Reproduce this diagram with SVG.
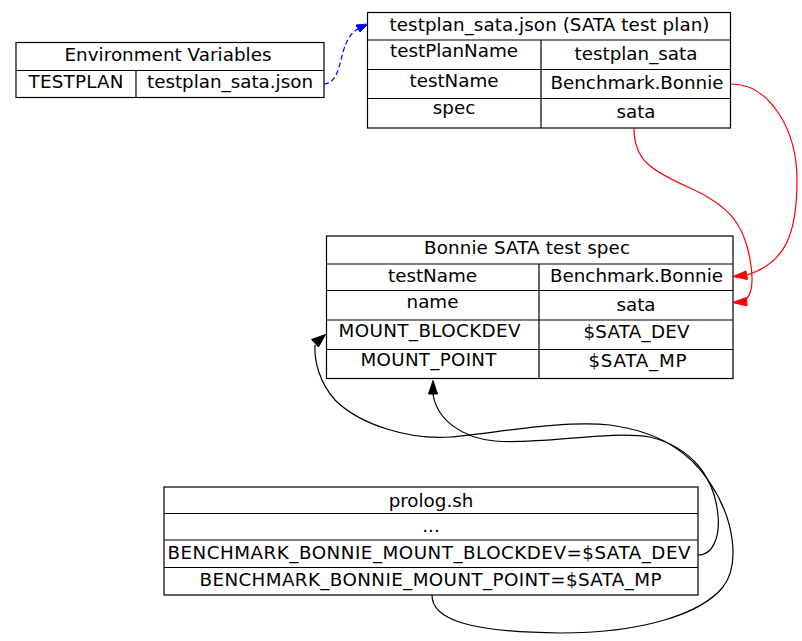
<svg xmlns="http://www.w3.org/2000/svg" width="802" height="641" viewBox="0 0 802 641">
<style>
text{font-family:"DejaVu Sans","Liberation Sans",sans-serif;font-size:18.3px;fill:#000;text-anchor:middle}
.cell{fill:none;stroke:#000;stroke-width:1.2}
.edge{fill:none;stroke-width:1.2}
</style>
<rect width="802" height="641" fill="#fff"/>
<g id="env">
<rect class="cell" x="16" y="42.5" width="308" height="55"/>
<path class="cell" d="M16,70.5H324M136,70.5V97.5"/>
<text x="168" y="61" textLength="207" lengthAdjust="spacing">Environment Variables</text>
<text x="76" y="88" textLength="95" lengthAdjust="spacing">TESTPLAN</text>
<text x="230" y="88" textLength="166" lengthAdjust="spacing">testplan_sata.json</text>
</g>
<g id="testplan">
<rect class="cell" x="367.5" y="12.5" width="363" height="115.5"/>
<path class="cell" d="M367.5,40H730.5M367.5,69.5H730.5M367.5,98.5H730.5M541,40V128"/>
<text x="549.5" y="31" textLength="320" lengthAdjust="spacing">testplan_sata.json (SATA test plan)</text>
<text x="454" y="57">testPlanName</text>
<text x="636" y="59.5">testplan_sata</text>
<text x="454" y="86.5">testName</text>
<text x="637" y="88.5" textLength="173" lengthAdjust="spacing">Benchmark.Bonnie</text>
<text x="454" y="114">spec</text>
<text x="636" y="117.5">sata</text>
</g>
<g id="spec">
<rect class="cell" x="326.5" y="236" width="406.5" height="142.5"/>
<path class="cell" d="M326.5,264H733M326.5,290.5H733M326.5,320H733M326.5,349.5H733M539,264V378.5"/>
<text x="527" y="254" textLength="206" lengthAdjust="spacing">Bonnie SATA test spec</text>
<text x="432.5" y="282">testName</text>
<text x="636.5" y="282" textLength="173" lengthAdjust="spacing">Benchmark.Bonnie</text>
<text x="432.5" y="308">name</text>
<text x="636" y="311">sata</text>
<text x="429.5" y="337" textLength="182" lengthAdjust="spacing">MOUNT_BLOCKDEV</text>
<text x="636.5" y="338" textLength="106" lengthAdjust="spacing">$SATA_DEV</text>
<text x="428.5" y="366" textLength="136" lengthAdjust="spacing">MOUNT_POINT</text>
<text x="637.5" y="367" textLength="98" lengthAdjust="spacing">$SATA_MP</text>
</g>
<g id="prolog">
<rect class="cell" x="164" y="487" width="534" height="108"/>
<path class="cell" d="M164,513.5H698M164,540H698M164,567.5H698"/>
<text x="431" y="506.5">prolog.sh</text>
<text x="431" y="531.5">...</text>
<text x="429" y="559" textLength="523" lengthAdjust="spacing">BENCHMARK_BONNIE_MOUNT_BLOCKDEV=$SATA_DEV</text>
<text x="430.5" y="585.5" textLength="462" lengthAdjust="spacing">BENCHMARK_BONNIE_MOUNT_POINT=$SATA_MP</text>
</g>
<g id="connectors">
<path class="edge" stroke="#00f" stroke-dasharray="5,3" d="M324,84 C334,84 338,72 341,60 C344,48 347,35 358,29"/>
<polygon fill="#00f" stroke="#00f" points="368,24 360,32 356,25"/>
<path class="edge" stroke="#f00" d="M731,84 C770,84 797,130 797,180 C797,235 785,263 747,275"/>
<polygon fill="#f00" stroke="#f00" points="733,276.5 746,271 747.5,279.5"/>
<path class="edge" stroke="#f00" d="M634,128 C634,160 650,170 690,188 C730,206 742,225 748,250 C754,275 753,292 747,298"/>
<polygon fill="#f00" stroke="#f00" points="732.5,302.5 746.5,297.5 747,306"/>
<path class="edge" stroke="#000" d="M432,595 C432,620 470,632 560,633 C640,633 700,615 723,587 C740,565 735,520 710,483 C690,452 660,432 610,425 C560,420 490,434 450,437 C410,440 360,425 335,400 C320,383 314,362 315,345"/>
<polygon fill="#000" stroke="#000" points="325.5,334.5 318.5,347 311.5,339.5"/>
<path class="edge" stroke="#000" d="M698,555 C714,555 720,535 718,515 C714,475 690,447 650,437 C610,430 540,445 495,441 C462,438 437,420 433,394"/>
<polygon fill="#000" stroke="#000" points="433,380.5 437.5,394 428.5,394"/>
</g>
</svg>
